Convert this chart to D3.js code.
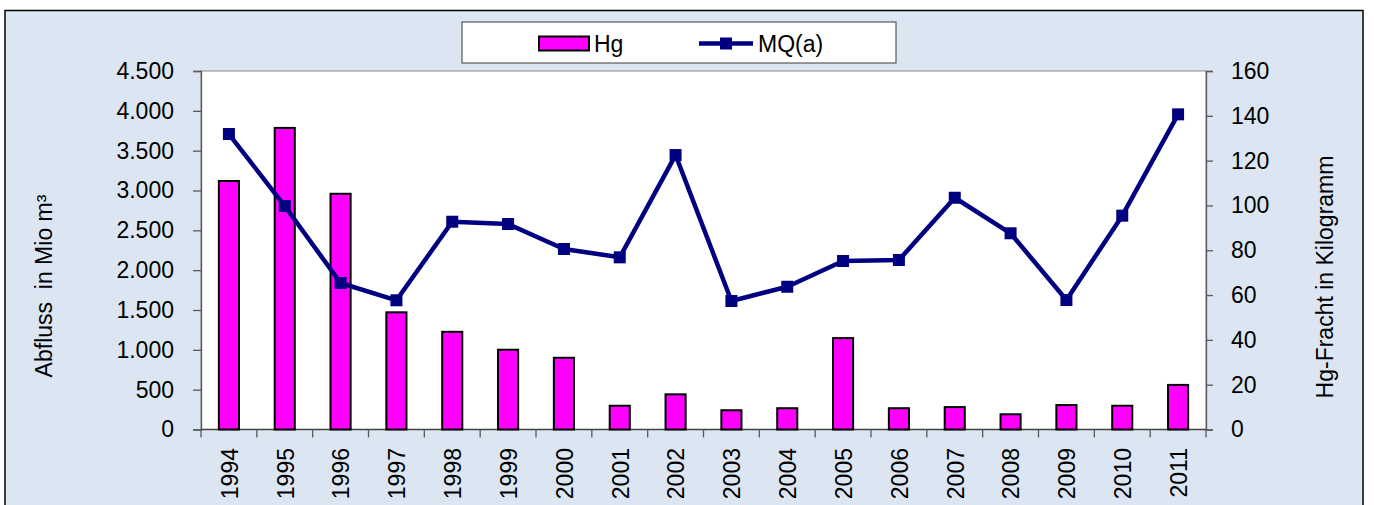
<!DOCTYPE html>
<html>
<head>
<meta charset="utf-8">
<script src="https://cdn.jsdelivr.net/npm/d3@7"></script>
<style>
  html, body { margin: 0; padding: 0; background: #ffffff; }
  svg { display: block; }
  text { font-family: "Liberation Sans", Arial, sans-serif; fill: #000; }
</style>
</head>
<body>
<svg id="chart" width="1374" height="505"></svg>
<script>
// Jahre (Kategorien)
const years = ["1994","1995","1996","1997","1998","1999","2000","2001","2002",
               "2003","2004","2005","2006","2007","2008","2009","2010","2011"];
// Hg-Fracht in kg (Säulen, rechte Achse)
const hg = [110.9, 134.6, 105.2, 52.3, 43.6, 35.6, 32.0, 10.6, 15.7,
            8.6, 9.5, 40.8, 9.5, 10.0, 6.8, 10.9, 10.6, 19.9];
// Mittlerer Abfluss MQ(a) in Mio m³ (Linie, linke Achse)
const mq = [3709, 2805, 1839, 1622, 2608, 2579, 2266, 2161, 3445,
            1613, 1792, 2115, 2128, 2909, 2463, 1625, 2684, 3956];
// Achsenbeschriftungen
const leftTicks = [0, 500, 1000, 1500, 2000, 2500, 3000, 3500, 4000, 4500];
const rightTicks = [0, 20, 40, 60, 80, 100, 120, 140, 160];
const seriesNames = ["Hg", "MQ(a)"];
const leftTitle = "Abfluss  in Mio m³";
const rightTitle = "Hg-Fracht in Kilogramm";

const svg = d3.select("#chart");
const plot = { left: 201, right: 1206, top: 71, bottom: 429.5 };
const fontSize = 23;
const axisColor = "#595959";

// Diagrammhintergrund
svg.append("rect")
  .attr("x", 5).attr("y", 10.5).attr("width", 1358).attr("height", 520)
  .attr("fill", "#DCE6F2").attr("stroke", "#000").attr("stroke-width", 1.5);

// Zeichenfläche
svg.append("rect")
  .attr("x", plot.left).attr("y", plot.top)
  .attr("width", plot.right - plot.left).attr("height", plot.bottom - plot.top)
  .attr("fill", "#fff").attr("stroke", "#8c8c8c").attr("stroke-width", 1);

const x = d3.scaleBand().domain(years).range([plot.left, plot.right]).padding(0);
const yL = d3.scaleLinear().domain([0, 4500]).range([plot.bottom, plot.top]);
const yR = d3.scaleLinear().domain([0, 160]).range([plot.bottom, plot.top]);

const fmt = d3.formatLocale({ decimal: ",", thousands: ".", grouping: [3], currency: ["", "€"] }).format(",d");

// Linke Achse
const gL = svg.append("g").attr("transform", `translate(${plot.left},0)`)
  .call(d3.axisLeft(yL).tickValues(leftTicks).tickFormat(fmt).tickSize(8).tickPadding(19));
// Rechte Achse
const gR = svg.append("g").attr("transform", `translate(${plot.right},0)`)
  .call(d3.axisRight(yR).tickValues(rightTicks).tickSize(7).tickPadding(18));
[gL, gR].forEach(g => {
  g.select(".domain").attr("stroke", axisColor).attr("stroke-width", 1.3);
  g.selectAll(".tick line").attr("stroke", axisColor).attr("stroke-width", 1.3);
  g.selectAll(".tick text").attr("font-size", fontSize).attr("font-family", "Liberation Sans, Arial, sans-serif").attr("fill", "#000");
});

// X-Achse: Linie, Teilstriche an Kategoriegrenzen, gedrehte Jahreszahlen
const gX = svg.append("g");
gX.append("line")
  .attr("x1", plot.left).attr("x2", plot.right)
  .attr("y1", plot.bottom).attr("y2", plot.bottom)
  .attr("stroke", "#404040").attr("stroke-width", 1.5);
const bounds = years.map(d => x(d)).concat([plot.right]);
gX.selectAll("line.tk").data(bounds).join("line").attr("class", "tk")
  .attr("x1", d => d).attr("x2", d => d)
  .attr("y1", plot.bottom).attr("y2", plot.bottom + 8)
  .attr("stroke", axisColor).attr("stroke-width", 1.3);
gX.selectAll("text").data(years).join("text")
  .attr("transform", d => `translate(${x(d) + x.bandwidth() / 2 + 0.5},448) rotate(-90)`)
  .attr("text-anchor", "end").attr("dy", "0.36em")
  .attr("font-size", fontSize).text(d => d);

// Säulen Hg
const bw = x.bandwidth() * 0.36;
svg.append("g").selectAll("rect").data(hg).join("rect")
  .attr("x", (d, i) => x(years[i]) + x.bandwidth() / 2 - bw / 2)
  .attr("y", d => yR(d))
  .attr("width", bw)
  .attr("height", d => plot.bottom - yR(d))
  .attr("fill", "#FF00FF").attr("stroke", "#000").attr("stroke-width", 2);

// Linie MQ(a)
const cx = i => x(years[i]) + x.bandwidth() / 2;
const line = d3.line().x((d, i) => cx(i)).y(d => yL(d));
svg.append("path").datum(mq).attr("d", line)
  .attr("fill", "none").attr("stroke", "#000080").attr("stroke-width", 4.5)
  .attr("stroke-linejoin", "round");
const ms = 12;
svg.append("g").selectAll("rect").data(mq).join("rect")
  .attr("x", (d, i) => cx(i) - ms / 2).attr("y", d => yL(d) - ms / 2)
  .attr("width", ms).attr("height", ms).attr("fill", "#000080");

// Achsentitel
svg.append("text")
  .attr("transform", "translate(52,286) rotate(-90)")
  .attr("text-anchor", "middle").attr("font-size", fontSize)
  .attr("xml:space", "preserve").style("white-space", "pre")
  .text(leftTitle);
svg.append("text")
  .attr("transform", "translate(1333,277) rotate(-90)")
  .attr("text-anchor", "middle").attr("font-size", fontSize)
  .text(rightTitle);

// Legende
const lg = svg.append("g");
lg.append("rect").attr("x", 462).attr("y", 22).attr("width", 434).attr("height", 41)
  .attr("fill", "#fff").attr("stroke", "#595959").attr("stroke-width", 1.2);
lg.append("rect").attr("x", 539).attr("y", 36.5).attr("width", 50).attr("height", 14)
  .attr("fill", "#FF00FF").attr("stroke", "#000").attr("stroke-width", 2);
lg.append("text").attr("x", 594).attr("y", 51.5).attr("font-size", fontSize).text(seriesNames[0]);
lg.append("line").attr("x1", 699).attr("x2", 753).attr("y1", 43.5).attr("y2", 43.5)
  .attr("stroke", "#000080").attr("stroke-width", 4.5);
lg.append("rect").attr("x", 726 - ms / 2).attr("y", 43.5 - ms / 2).attr("width", ms).attr("height", ms)
  .attr("fill", "#000080");
lg.append("text").attr("x", 758).attr("y", 51.5).attr("font-size", fontSize).text(seriesNames[1]);
</script>
</body>
</html>
